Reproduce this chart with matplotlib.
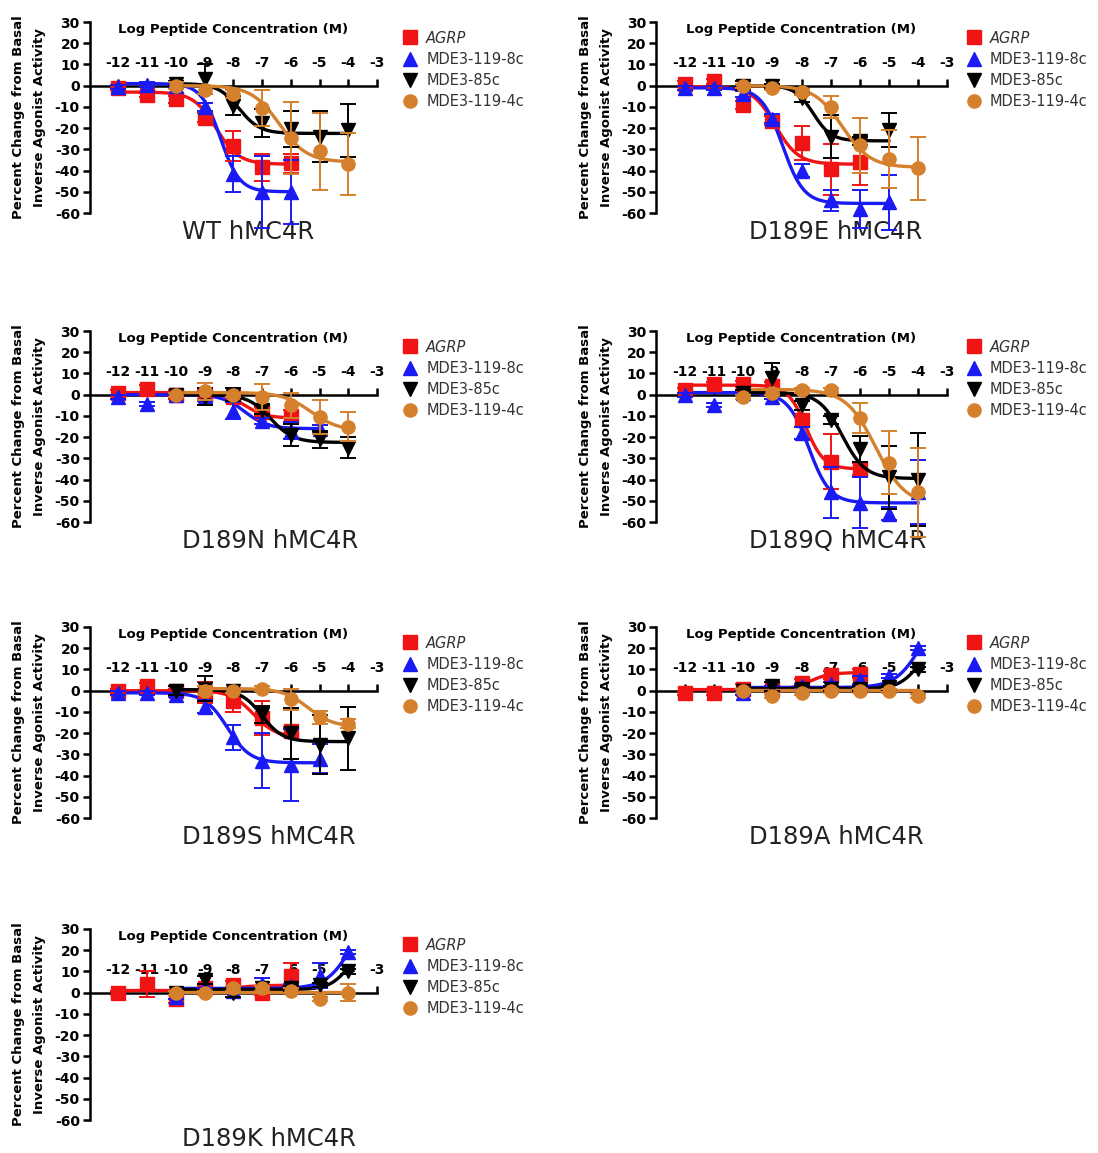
import numpy as np
import matplotlib
matplotlib.use("Agg")
import matplotlib.pyplot as plt
from matplotlib.lines import Line2D

plt.rcParams['font.family'] = ['DejaVu Sans']
plt.rcParams['axes.unicode_minus'] = False

# ---------------- data ----------------
SERIES = ["AGRP", "MDE3-119-8c", "MDE3-85c", "MDE3-119-4c"]
COLORS = ["#F01414", "#1A1AF5", "#000000", "#D5802C"]
MARKERS = ["s", "^", "v", "o"]
X_TICKS = [-12, -11, -10, -9, -8, -7, -6, -5, -4, -3]
Y_TICKS = [-60, -50, -40, -30, -20, -10, 0, 10, 20, 30]
PANEL_TITLES = ["WT hMC4R", "D189E hMC4R", "D189N hMC4R", "D189Q hMC4R",
                "D189S hMC4R", "D189A hMC4R", "D189K hMC4R"]

# fit parameters: (left plateau, right plateau, logEC50, hill)
# --- WT ---
wt_agrp_x = [-12, -11, -10, -9, -8, -7, -6]
wt_agrp_y = [-1, -4.5, -6.5, -15, -28.5, -38.5, -36.5]
wt_agrp_e = [1, 1, 1.5, 2, 7, 6.5, 4.5]
wt_agrp_fit = (-3, -37, -8.6, 1.1)
wt_b8_x = [-12, -11, -10, -9, -8, -7, -6]
wt_b8_y = [-0.5, 0.5, 0, -10, -41.5, -50, -50]
wt_b8_e = [1, 1, 1, 2, 8.5, 17, 15]
wt_b8_fit = (1, -50, -8.45, 1.3)
wt_85_x = [-10, -9, -8, -7, -6, -5, -4]
wt_85_y = [1, 3, -9.5, -17.5, -20.5, -24, -21]
wt_85_e = [1, 7, 4.5, 6.5, 8.5, 12, 12.5]
wt_85_fit = (1, -22.5, -7.8, 1.2)
wt_4c_x = [-10, -9, -8, -7, -6, -5, -4]
wt_4c_y = [0, -2, -4, -10.5, -24.5, -31, -37]
wt_4c_e = [1.5, 2, 2, 8.5, 17, 18, 14.5]
wt_4c_fit = (0, -36, -6.4, 0.9)

# --- D189E ---
e_agrp_x = [-12, -11, -10, -9, -8, -7, -6]
e_agrp_y = [1, 2, -9, -16.5, -27, -39.5, -36]
e_agrp_e = [1, 1, 2, 2, 8, 12, 11]
e_agrp_fit = (-0.5, -37, -8.9, 1.1)
e_b8_x = [-12, -11, -10, -9, -8, -7, -6, -5]
e_b8_y = [-1, -1, -4, -15.5, -40, -54, -58, -55]
e_b8_e = [1, 1, 1.5, 2, 3, 5, 9, 13]
e_b8_fit = (-1, -55.5, -8.65, 1.2)
e_85_x = [-10, -9, -8, -7, -6, -5]
e_85_y = [0, 0, -6, -24, -26, -21]
e_85_e = [2, 1, 1.5, 10, 2, 8]
e_85_fit = (0, -26, -7.6, 1.4)
e_4c_x = [-10, -9, -8, -7, -6, -5, -4]
e_4c_y = [0, -1, -3, -10, -28, -34.5, -39]
e_4c_e = [1, 1, 1.5, 5, 13, 13.5, 15]
e_4c_fit = (0, -38.5, -6.6, 0.9)

# --- D189N ---
n_agrp_x = [-12, -11, -10, -9, -8, -7, -6]
n_agrp_y = [1, 2.5, 0, 0, -1, -8, -10]
n_agrp_e = [1, 2, 2, 2, 2, 2, 3]
n_agrp_fit = (1, -11, -7.6, 1.2)
n_b8_x = [-12, -11, -10, -9, -8, -7, -6, -5]
n_b8_y = [-1, -4.5, 0, -1, -7.5, -12.5, -17, -16]
n_b8_e = [1, 1, 1, 2, 4, 1.5, 4, 1.5]
n_b8_fit = (0, -16, -7.6, 1.1)
n_85_x = [-10, -9, -8, -7, -6, -5, -4]
n_85_y = [0, -1, 0, -7, -19, -21, -25]
n_85_e = [1, 4, 3, 2, 5, 4, 5]
n_85_fit = (0, -22.5, -6.7, 1.1)
n_4c_x = [-10, -9, -8, -7, -6, -5, -4]
n_4c_y = [0, 1.5, 0, -1, -5, -10.5, -15]
n_4c_e = [1, 4, 1, 6, 6, 8, 7]
n_4c_fit = (1, -17, -5.3, 0.9)

# --- D189Q ---
q_agrp_x = [-12, -11, -10, -9, -8, -7, -6]
q_agrp_y = [2, 5, 5, 4, -12, -31.5, -35]
q_agrp_e = [1, 1, 1.5, 2, 9, 13, 3]
q_agrp_fit = (4.5, -35, -7.85, 1.4)
q_b8_x = [-12, -11, -10, -9, -8, -7, -6, -5, -4]
q_b8_y = [0, -5, 1, -1, -18, -46, -51, -56, -46]
q_b8_e = [1, 1, 1, 1, 3, 12, 12, 3, 15]
q_b8_fit = (1, -51, -7.75, 1.2)
q_85_x = [-10, -9, -8, -7, -6, -5, -4]
q_85_y = [1, 8, -5, -12, -25.5, -39, -40]
q_85_e = [1, 7, 2, 2, 6, 15, 22]
q_85_fit = (1, -39.5, -6.6, 1.1)
q_4c_x = [-10, -9, -8, -7, -6, -5, -4]
q_4c_y = [-1, 1, 2, 2, -11, -32, -46]
q_4c_e = [1, 1, 1, 1, 7, 15, 21]
q_4c_fit = (2.5, -52, -5.45, 0.85)

# --- D189S ---
s_agrp_x = [-12, -11, -10, -9, -8, -7, -6]
s_agrp_y = [0, 2, 0, -1, -5, -13, -19]
s_agrp_e = [1, 1.5, 1, 5, 5, 8, 2]
s_agrp_fit = (0, -22, -7.3, 1.1)
s_b8_x = [-12, -11, -10, -9, -8, -7, -6, -5]
s_b8_y = [-1, -1, -2, -7.5, -22, -33, -35, -32]
s_b8_e = [1, 1, 1, 3, 6, 13, 17, 7]
s_b8_fit = (-1, -34, -8.2, 1.1)
s_85_x = [-10, -9, -8, -7, -6, -5, -4]
s_85_y = [0, 1, 0, -11, -20, -25.5, -22.5]
s_85_e = [2, 6, 1, 4, 12, 14, 15]
s_85_fit = (0.5, -24, -7.0, 1.2)
s_4c_x = [-9, -8, -7, -6, -5, -4]
s_4c_y = [0, 0, 1, -4, -12.5, -15.5]
s_4c_e = [2, 1, 1, 5, 3, 2]
s_4c_fit = (1, -17, -5.4, 1.0)

# --- D189A ---
a_agrp_x = [-12, -11, -10, -9, -8, -7, -6]
a_agrp_y = [-1, -1, 1, 1, 3.5, 7.5, 8]
a_agrp_e = [1, 1, 2, 1, 2, 2, 2]
a_agrp_fit = (0.5, 8.5, -7.7, 1.3)
a_b8_x = [-10, -9, -8, -7, -6, -5, -4]
a_b8_y = [-1, 1, 2, 3, 5, 7, 20]
a_b8_e = [1, 1, 1, 1, 2, 1, 1]
a_b8_fit = (1.5, 40, -3.9, 1.0)
a_85_x = [-10, -9, -8, -7, -6, -5, -4]
a_85_y = [0, 2, 1, 1, 1, 1.5, 10]
a_85_e = [1, 2, 1, 1, 1, 1, 1]
a_85_fit = (1, 22, -4.0, 1.3)
a_4c_x = [-10, -9, -8, -7, -6, -5, -4]
a_4c_y = [0, -2.5, -1, 0, 0, 0, -2.5]
a_4c_e = [1, 1, 1, 1, 1, 1, 1]
a_4c_fit = (0.5, 0.5, -7.0, 1.0)

# --- D189K ---
k_agrp_x = [-12, -11, -10, -9, -8, -7, -6]
k_agrp_y = [0, 4, -3, 2, 3.5, 0, 8]
k_agrp_e = [1, 6, 2, 1, 2, 1, 6]
k_agrp_fit = (1, 3.5, -8.0, 1.0)
k_b8_x = [-10, -9, -8, -7, -6, -5, -4]
k_b8_y = [-2, 3, 1, 4, 3, 8, 19]
k_b8_e = [1, 1, 1, 3, 1, 6, 1]
k_b8_fit = (2, 40, -3.9, 1.0)
k_85_x = [-10, -9, -8, -7, -6, -5, -4]
k_85_y = [0, 6, 0, 2, 2, 3.5, 10]
k_85_e = [1, 2, 2, 1, 1, 1, 1]
k_85_fit = (1.5, 22, -4.0, 1.3)
k_4c_x = [-10, -9, -8, -7, -6, -5, -4]
k_4c_y = [0, 0, 2, 2, 1, -3, 0]
k_4c_e = [1, 1, 1, 1, 1, 1, 4]
k_4c_fit = (0.5, 0.5, -7.0, 1.0)

PANELS = [
    [(wt_agrp_x, wt_agrp_y, wt_agrp_e, wt_agrp_fit), (wt_b8_x, wt_b8_y, wt_b8_e, wt_b8_fit),
     (wt_85_x, wt_85_y, wt_85_e, wt_85_fit), (wt_4c_x, wt_4c_y, wt_4c_e, wt_4c_fit)],
    [(e_agrp_x, e_agrp_y, e_agrp_e, e_agrp_fit), (e_b8_x, e_b8_y, e_b8_e, e_b8_fit),
     (e_85_x, e_85_y, e_85_e, e_85_fit), (e_4c_x, e_4c_y, e_4c_e, e_4c_fit)],
    [(n_agrp_x, n_agrp_y, n_agrp_e, n_agrp_fit), (n_b8_x, n_b8_y, n_b8_e, n_b8_fit),
     (n_85_x, n_85_y, n_85_e, n_85_fit), (n_4c_x, n_4c_y, n_4c_e, n_4c_fit)],
    [(q_agrp_x, q_agrp_y, q_agrp_e, q_agrp_fit), (q_b8_x, q_b8_y, q_b8_e, q_b8_fit),
     (q_85_x, q_85_y, q_85_e, q_85_fit), (q_4c_x, q_4c_y, q_4c_e, q_4c_fit)],
    [(s_agrp_x, s_agrp_y, s_agrp_e, s_agrp_fit), (s_b8_x, s_b8_y, s_b8_e, s_b8_fit),
     (s_85_x, s_85_y, s_85_e, s_85_fit), (s_4c_x, s_4c_y, s_4c_e, s_4c_fit)],
    [(a_agrp_x, a_agrp_y, a_agrp_e, a_agrp_fit), (a_b8_x, a_b8_y, a_b8_e, a_b8_fit),
     (a_85_x, a_85_y, a_85_e, a_85_fit), (a_4c_x, a_4c_y, a_4c_e, a_4c_fit)],
    [(k_agrp_x, k_agrp_y, k_agrp_e, k_agrp_fit), (k_b8_x, k_b8_y, k_b8_e, k_b8_fit),
     (k_85_x, k_85_y, k_85_e, k_85_fit), (k_4c_x, k_4c_y, k_4c_e, k_4c_fit)],
]


def logistic(x, p):
    left, right, ec, h = p
    return right + (left - right) / (1 + 10 ** ((x - ec) * h))


# ---------------- layout ----------------
W, H = 1098, 1153
fig = plt.figure(figsize=(W / 100, H / 100), dpi=100)

COL_LEFT = [89.5, 656]
COL_W = [287.5, 291]
LEG_X = [1.09, 1.068]
ROW_TOP = [22, 331, 627, 929]
AX_H = 191

positions = [(0, 0), (0, 1), (1, 0), (1, 1), (2, 0), (2, 1), (3, 0)]
draw_order = [3, 2, 1, 0]  # orange, black, blue, red on top

for idx, (r, c) in enumerate(positions):
    left = COL_LEFT[c] / W
    bottom = 1 - (ROW_TOP[r] + AX_H) / H
    ax = fig.add_axes([left, bottom, COL_W[c] / W, AX_H / H])
    ax.set_xlim(-13, -3)
    ax.set_ylim(-60, 30)

    for k in draw_order:
        x, y, e, fit = PANELS[idx][k]
        col = COLORS[k]
        xx = np.linspace(min(x), max(x), 200)
        ax.plot(xx, logistic(xx, fit), color=col, lw=2.4, zorder=3 + k, clip_on=False)
        ax.errorbar(x, y, yerr=e, fmt=MARKERS[k], color=col, ms=9.5,
                    capsize=5.5, elinewidth=1.4, capthick=1.4,
                    zorder=4 + k, clip_on=False)

    for s in ("right", "bottom"):
        ax.spines[s].set_visible(False)
    ax.spines["top"].set_position(("data", 0))
    ax.spines["top"].set_linewidth(1.8)
    ax.spines["left"].set_linewidth(1.8)
    ax.spines["top"].set_zorder(2)
    ax.xaxis.set_ticks_position("top")
    ax.xaxis.set_label_position("top")
    ax.set_xticks(X_TICKS)
    ax.set_yticks(Y_TICKS)
    ax.tick_params(axis="x", direction="out", length=5, width=1.8, pad=6, labelsize=10)
    ax.tick_params(axis="y", direction="out", length=5, width=1.8, pad=2, labelsize=10)
    for t in ax.get_xticklabels() + ax.get_yticklabels():
        t.set_fontweight("bold")
    ax.set_xlabel("Log Peptide Concentration (M)", fontweight="bold", fontsize=9.5, labelpad=17)
    ax.set_ylabel("Percent Change from Basal\nInverse Agonist Activity",
                  fontweight="bold", fontsize=9.5, linespacing=1.8, labelpad=6)
    ax.text(0.32, -0.1, PANEL_TITLES[idx], transform=ax.transAxes, ha="left",
            va="center", fontsize=17.5, color="#222222")

    handles = [Line2D([], [], ls="none", marker=MARKERS[k], color=COLORS[k], ms=9.5)
               for k in range(4)]
    leg = ax.legend(handles, SERIES, loc="upper left", bbox_to_anchor=(LEG_X[c], 0.955),
                    frameon=False, handlelength=1.0, handletextpad=0.6,
                    labelspacing=0.42, borderpad=0, borderaxespad=0, fontsize=10.5)
    for t in leg.get_texts():
        t.set_color("#333333")
    leg.get_texts()[0].set_style("italic")

fig.savefig("out.png", dpi=100)
